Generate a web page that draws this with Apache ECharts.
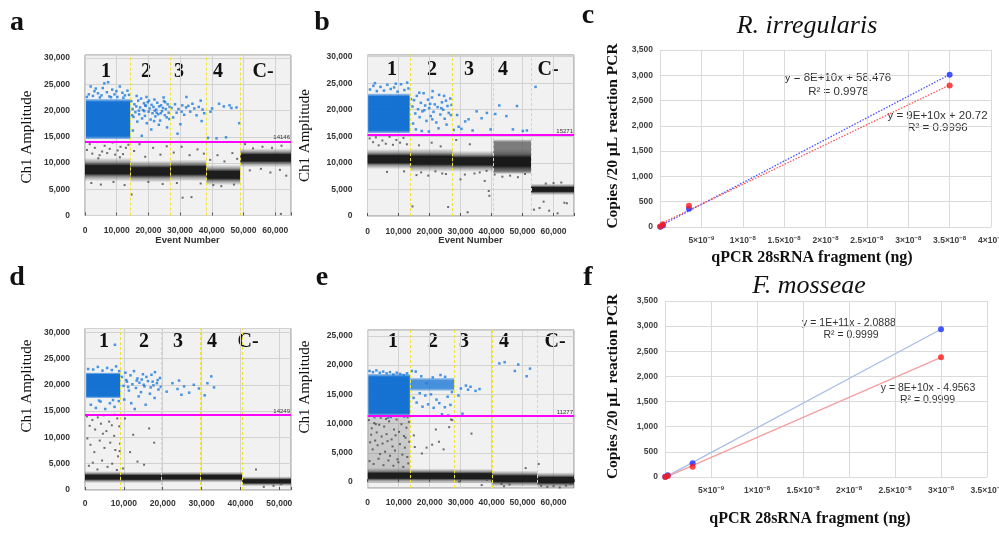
<!DOCTYPE html>
<html><head><meta charset="utf-8">
<script src="https://cdn.jsdelivr.net/npm/echarts@6/dist/echarts.min.js"></script>
<style>html,body{margin:0;padding:0;background:#fff}#chart{width:999px;height:534px}</style>
</head><body><div id="chart"></div>
<script>
// ================= DATA =================
// ---- panel a (ddPCR, R. irregularis) ----
const aSeparators = [14370, 26950, 38270, 48960];
const aThreshold = 14146;
const aBands = [[0,14370,6500,11000],[14370,26950,6300,10500],[26950,38270,6500,10700],[38270,48960,5800,9700],[48960,65000,9200,12800]];
const aDense = [[300,14300,14600,22200]];
const aBlue = [[1200,23100],[2500,22800],[3400,24200],[4100,23300],[5200,22900],[6100,25200],[6900,23500],[7700,22700],[8600,24000],[9300,23100],[10200,22600],[11000,24600],[11800,23400],[12600,22900],[13400,23800],[1800,24600],[7300,25400],[9900,23700],[4700,22500],[12100,22450],[600,22600],[3000,23700],[8200,22550],[13900,23000],[5600,24300],
[14600,21800],[15000,20300],[15300,18800],[15600,21200],[15900,19700],[16200,20800],[16500,17900],[16800,21900],[17100,19300],[17400,20600],[17700,22300],[18000,18500],[18300,20100],[18600,21400],[18900,19000],[19200,20900],[19500,17600],[19800,21600],[20100,19800],[20400,20400],[20700,18300],[21000,21100],[21300,19500],[21600,20700],[21900,22100],[22200,18900],[22500,20200],[22800,21500],[23100,19300],[23400,20800],[23700,18100],[24000,21000],[24300,19900],[24600,20500],[24900,21800],[25200,19100],[25500,20300],[25800,18700],[26100,21200],[26400,19600],[26700,20700],[15100,16200],[17900,15200],[20900,16400],[23300,17300],[25900,16800],[16300,22800],[19400,22600],[22600,19600],[24800,22500],[18700,19900],[21800,18000],[14900,19100],[20200,21900],[25300,21600],[17000,20000],[22000,20000],[23900,19500],[26600,18400],[19000,21000],
[27300,20500],[27800,18700],[28400,21200],[28900,19600],[29500,20300],[30100,17400],[30700,21000],[31300,19200],[31900,20600],[32600,20900],[33200,19800],[33900,21300],[34500,20400],[35200,19100],[35900,20700],[36500,21900],[37100,20200],[37600,19500],[29200,15600],[32000,22600],[36800,18000],[30500,19800],
[38800,14800],[40100,20400],[41500,14700],[42300,21300],[43800,20800],[44500,14900],[46200,20500],[47800,20600],[39600,19800],[45600,21000],[48700,17600]];
const aGray = [[600,12500],[1500,13600],[2300,11800],[3100,12900],[3800,14000],[4600,11500],[5400,12200],[6200,13300],[7000,11900],[7800,12700],[8700,13900],[9500,11600],[10300,12400],[11200,13100],[12000,11700],[12900,12900],[13700,13500],[2000,6200],[5000,5900],[9000,6400],[12500,5800],[4200,10900],[11000,11100],
[15500,12300],[17200,13600],[19000,11200],[21500,12900],[23800,11600],[25800,13200],[14700,4000],[20000,6400],[24500,6000],
[28000,12000],[30500,13100],[33000,11500],[35500,12600],[37500,11800],[30800,3400],[33600,3500],[29000,6200],[36500,6100],
[39500,10600],[41800,11500],[44000,10300],[46500,11900],[48000,10800],[40500,5800],[43000,5600],[47000,5900],
[50500,13600],[53000,12800],[56000,13100],[59000,12900],[62000,13300],[52000,8600],[55500,8900],[58500,8200],[61500,8700],[63500,7600],[61800,300]];

// ---- panel b ----
const bSeparators = [13710, 27480, 40580, 52740];
const bThreshold = 15271;
const bBands = [[0,13710,8800,12600],[13710,27480,8300,12700],[27480,40580,8300,12300],[40580,52740,7800,12600],[52740,66600,3900,6100]];
const bWide = [[40580,52740,8000,14400]];
const bDense = [[200,13600,15600,23000]];
const bBlue = [[800,23800],[1900,24500],[3000,23500],[4200,24300],[5300,23600],[6400,24700],[7500,23900],[8600,24200],[9700,23400],[10800,24800],[11900,23700],[12800,25100],[2400,25000],[9100,24900],[13200,24000],
[14000,22000],[14500,20600],[15000,21800],[15400,19300],[15900,22600],[16300,20100],[16800,18600],[17200,21300],[17700,19700],[18100,23100],[18600,20800],[19000,17900],[19500,21900],[19900,20300],[20400,18800],[20800,22300],[21300,19600],[21700,21000],[22200,17600],[22600,20500],[23100,22800],[23500,19100],[24000,21400],[24400,20000],[24900,18300],[25300,21700],[25800,20700],[26200,19400],[26700,22100],[27100,20900],[15600,16300],[17500,16000],[19800,15900],[22900,16500],[25500,17200],[16700,23200],[21000,23500],[24700,22600],[18300,19900],[20200,21100],[23800,20300],[26900,19000],[14700,17400],[20900,18200],
[27800,16200],[28900,19000],[30300,16400],[31500,17800],[32600,18200],[33900,16100],[35200,19700],[36800,18400],[38500,19400],[39700,16300],[29400,16800],
[41200,19200],[42500,20800],[44800,18800],[46900,16300],[48200,20700],[50100,16000],[51400,16100],[54200,24300]];
const bGray = [[700,14600],[1800,13900],[2700,14800],[3600,13300],[4800,14200],[5900,13600],[7100,14900],[8200,13400],[9300,14300],[10500,13800],[11600,14700],[12700,13500],[6300,8300],[11800,8400],
[14500,1800],[15800,7700],[17300,8200],[19600,7600],[21900,8400],[24100,8000],[26000,1700],[25300,7900],[16600,13300],[20700,13800],[23600,13100],
[28600,14300],[30000,6900],[31400,7800],[32300,700],[34500,8000],[36200,8200],[37800,6600],[39100,4700],[39300,3800],[38400,8500],[33000,13500],
[41000,7800],[43500,7400],[46000,7600],[48500,7300],[50800,7900],
[53700,1200],[55500,1500],[56800,2700],[58600,1000],[61300,500],[63500,2500],[64300,2400],[60000,6200],[57500,6100],[62500,6300]];

// ---- panel d (ddPCR, F. mosseae) ----
const dSeparators = [9180, 19700, 29740, 40440];
const dThreshold = 14249;
const dBands = [[0,9180,1300,3600],[9180,19700,1300,3500],[19700,29740,1400,3500],[29740,40440,1400,3500],[40440,53000,700,2600]];
const dDense = [[300,9100,17500,22300]];
const dBlue = [[800,23000],[2100,22900],[3300,23400],[4500,22700],[5700,23200],[6900,22800],[8000,23500],[8800,22600],[1500,16200],[2800,15600],[4000,16800],[5200,15400],[6400,16500],[7600,15800],[8700,16900],[3600,17000],[7200,17100],[7700,27600],
[9500,21500],[9900,19800],[10400,22300],[10800,20600],[11300,18900],[11700,21800],[12200,20100],[12600,22600],[13100,19400],[13500,21200],[14000,20400],[14400,18600],[14900,22000],[15300,19700],[15800,21500],[16200,20700],[16700,18300],[17100,21900],[17600,19900],[18000,22400],[18500,20300],[18900,19100],[19300,21300],[10100,17200],[11900,16500],[13800,17800],[15600,16200],[17900,17500],[12800,15400],[10600,20900],[14600,21000],[16900,19500],[18700,20900],[11100,19600],[13300,20800],[15100,20000],[17400,20600],[19500,19600],
[21000,18700],[22500,20300],[23800,19200],[24800,18100],[25500,19700],[26800,18500],[28000,20000],[29300,19300],[24200,20800],
[30800,18000],[32500,21600],[33200,19500],[31500,20300]];
const dGray = [[500,14000],[1200,12200],[1900,13300],[2600,11500],[3300,13800],[4100,12600],[4800,14200],[5500,11200],[6200,13000],[6900,12300],[7600,14300],[8300,13600],[8800,12100],[600,9800],[1400,8600],[2400,7200],[3800,9400],[5000,8000],[6500,9000],[7800,7600],[8500,6400],[1000,4600],[2000,5200],[3200,3900],[4400,5600],[5800,4400],[7000,5000],[8200,3800],[8900,7400],[9000,8800],[7500,10300],[4600,10700],
[10300,13600],[11600,7200],[13500,5400],[15200,4800],[17800,9000],[12400,10500],[16500,11700],[9800,4100],
[44000,3900],[46000,600],[48500,800],[50500,1100]];

// ---- panel e ----
const eSeparators = [13650, 27940, 40190, 54710];
const eThreshold = 11277;
const eBands = [[0,13650,-200,2400],[13650,27940,-200,2350],[27940,40190,-250,2300],[40190,54710,-800,2000],[54710,66600,-1000,1700]];
const eRain = [[0,13600,1800,11200]];
const eDense = [[200,13600,11300,18500]];
const eDenseLight = [[13700,27900,15600,17800]];
const eBlue = [[600,19000],[1700,18800],[2800,19100],[3900,18700],[5000,18900],[6100,18600],[7200,18800],[8300,18400],[9400,18700],[10500,18500],[11600,18300],[12700,18600],[2200,11100],[6600,11000],[11800,11200],
[14200,19000],[15500,18900],[14800,14400],[15800,13600],[16800,15200],[17700,12900],[18600,14800],[19500,13300],[20400,15000],[21300,12700],[22200,14100],[23100,13500],[24000,11600],[24900,12800],[25800,14600],[26700,13200],[26000,11400],[27200,15400],[19000,16900],[23500,18300],[17300,18100],[21000,17900],[25000,18000],
[29300,14800],[30100,16000],[31700,16500],[32400,15800],[33200,16300],[34800,15600],[36100,15900],[30600,11700],
[42500,20300],[44200,20500],[47500,19000],[48600,20100],[51300,18100],[52400,19400]];
const eGray = [[400,10600],[1300,9200],[2100,10100],[2900,8500],[3700,9800],[4500,7800],[5300,9500],[6100,8200],[6900,10400],[7700,7300],[8500,9000],[9300,10700],[10100,8600],[10900,9900],[11700,7900],[12500,9300],[13300,10300],[800,6800],[1600,5600],[2400,7100],[3200,6300],[4000,4800],[4800,6600],[5600,5200],[6400,7000],[7200,4500],[8000,6100],[8800,5400],[9600,3900],[10400,6500],[11200,4700],[12000,5900],[12800,4300],[13400,6900],[600,3600],[1900,3100],[3500,4000],[5100,2900],[6700,3700],[8300,2800],[9900,3400],[11500,2600],[13100,3200],[1100,8100],[4200,11000],[7500,11100],[10700,11300],[12900,11100],[2600,9900],[9000,8000],[5900,10800],[12200,7600],
[15200,6000],[17500,4900],[19000,5900],[20800,6400],[23000,6900],[24500,5600],[26300,9400],[26900,10700],[27300,10600],[14900,8000],[22000,9000],
[33500,8300],[29500,100],[36800,-500],[38500,400],
[43200,-300],[44000,-700],[45800,-400],[51000,2400],
[55200,3100],[56000,-600],[58000,-800],[60000,-700],[62000,-900],[64000,-600],[65500,-300]];

// ---- panel c (qPCR vs ddPCR, R. irregularis) ----
const cBlue = [[3.5e-11,5],[3.5e-10,32],[3.5e-9,360],[3.5e-8,3010]];
const cRed  = [[3.5e-11,10],[3.5e-10,55],[3.5e-9,420],[3.5e-8,2800]];
const cEquations = ['y = 8E+10x + 58.476','R² = 0.9978','y = 9E+10x + 20.72','R² = 0.9996'];
// ---- panel f (F. mosseae) ----
const fBlue = [[3e-11,3],[3e-10,35],[3e-9,272],[3e-8,2940]];
const fRed  = [[3e-11,1],[3e-10,22],[3e-9,205],[3e-8,2380]];
const fEquations = ['y = 1E+11x - 2.0888','R² = 0.9999','y = 8E+10x - 4.9563','R² = 0.9999'];

const wellNames = ['1','2','3','4','C-'];
const panelLetters = ['a','b','c','d','e','f'];

// ================= HELPERS =================
const SERIF = "'Liberation Serif','DejaVu Serif',serif";
const SANS = "'Liberation Sans',Arial,sans-serif";
const comma = v => String(Math.round(v)).replace(/\B(?=(\d{3})+(?!\d))/g, ',');
function sci(v){
  if (v <= 0) return '';
  const e = Math.floor(Math.log10(v) + 1e-9);
  const m = Math.round(v / Math.pow(10, e) * 100) / 100;
  return '{b|' + m + '×10}{s|' + String(e).replace('-', '−') + '}';
}
function fit(pts){
  const n = pts.length; let sx=0, sy=0, sxx=0, sxy=0;
  pts.forEach(([x,y]) => { sx+=x; sy+=y; sxx+=x*x; sxy+=x*y; });
  const b = (n*sxy - sx*sy) / (n*sxx - sx*sx);
  const a = (sy - b*sx) / n;
  const xs = pts.map(p => p[0]);
  const x0 = Math.min(...xs), x1 = Math.max(...xs);
  return [[x0, a + b*x0], [x1, a + b*x1]];
}
const NEG_STOPS = [[0,'rgba(90,90,90,0)'],[0.18,'rgba(75,75,75,0.5)'],[0.33,'rgba(22,22,22,0.97)'],[0.67,'rgba(22,22,22,0.97)'],[0.82,'rgba(75,75,75,0.5)'],[1,'rgba(90,90,90,0)']];
const WIDE_STOPS = [[0,'rgba(90,90,90,0.15)'],[0.08,'rgba(85,85,85,0.75)'],[0.92,'rgba(85,85,85,0.75)'],[1,'rgba(90,90,90,0.15)']];
const POS_STOPS = [[0,'rgba(25,120,220,0.35)'],[0.07,'rgba(10,108,210,0.95)'],[0.93,'rgba(10,108,210,0.95)'],[1,'rgba(25,120,220,0.45)']];
const POS_LIGHT = [[0,'rgba(25,120,220,0.3)'],[0.2,'rgba(15,112,212,0.75)'],[0.8,'rgba(15,112,212,0.75)'],[1,'rgba(25,120,220,0.3)']];
const RAIN_STOPS = [[0,'rgba(90,90,90,0.22)'],[1,'rgba(90,90,90,0.30)']];
function rectRender(stops){
  return (params, api) => {
    const p0 = api.coord([api.value(0), api.value(3)]);
    const p1 = api.coord([api.value(1), api.value(2)]);
    return {type:'rect', shape:{x:p0[0], y:p0[1], width:p1[0]-p0[0], height:p1[1]-p0[1]},
      style:{fill:new echarts.graphic.LinearGradient(0,0,0,1, stops.map(s => ({offset:s[0], color:s[1]})))}};
  };
}

// ================= LAYOUT =================
const grids = [
  {left:85,    top:55,    width:206,   height:160.5, show:true, backgroundColor:'#f1f1f1', borderColor:'#8c8c8c', borderWidth:1}, // a
  {left:367.5, top:55,    width:206.5, height:161,   show:true, backgroundColor:'#f1f1f1', borderColor:'#8c8c8c', borderWidth:1}, // b
  {left:660,   top:50,    width:331,   height:177,   show:false}, // c
  {left:85,    top:328.5, width:206,   height:161.5, show:true, backgroundColor:'#f1f1f1', borderColor:'#8c8c8c', borderWidth:1}, // d
  {left:367.7, top:330,   width:206.3, height:158,   show:true, backgroundColor:'#f1f1f1', borderColor:'#8c8c8c', borderWidth:1}, // e
  {left:665,   top:301,   width:322,   height:176,   show:false}  // f
].map(g => Object.assign({containLabel:false, outerBoundsMode:'none'}, g));

function dropX(i, max, margin){
  return {gridIndex:i, type:'value', min:0, max:max, interval:10000,
    axisLine:{show:false}, axisTick:{show:true, inside:true, length:3, lineStyle:{color:'#555'}},
    splitLine:{show:true, lineStyle:{color:'#d2d2d2', width:1}},
    axisLabel:{margin:margin, fontSize:8.5, fontWeight:'bold', fontFamily:SANS, color:'#333',
      formatter: v => (Math.abs(v % 10000) < 1e-6 ? comma(v) : '')}};
}
function dropY(i, min, max){
  const ax = {gridIndex:i, type:'value', min:min, max:max,
    axisLine:{show:false}, axisTick:{show:false},
    splitLine:{show:true, lineStyle:{color:'#d2d2d2', width:1}},
    axisLabel:{margin:15, fontSize:8.5, fontWeight:'bold', fontFamily:SANS, color:'#333',
      formatter: v => (Math.abs(v % 5000) < 1e-6 && v >= 0 ? comma(v) : '')}};
  if (min === 0) ax.interval = 5000; else { ax.minInterval = 5000; ax.maxInterval = 5000; }
  return ax;
}
function qX(i, max){
  return {gridIndex:i, type:'value', min:0, max:max, interval:5e-9,
    axisLine:{show:false}, axisTick:{show:false},
    splitLine:{show:true, lineStyle:{color:'#dadada', width:1}},
    axisLabel:{margin:8, color:'#404040', formatter: sci,
      rich:{b:{fontSize:8.5, fontWeight:'bold', fontFamily:SANS, color:'#404040', lineHeight:12},
            s:{fontSize:6, fontWeight:'bold', fontFamily:SANS, color:'#404040', verticalAlign:'top', lineHeight:12}}}};
}
function qY(i){
  return {gridIndex:i, type:'value', min:0, max:3500, interval:500,
    axisLine:{show:false}, axisTick:{show:false},
    splitLine:{show:true, lineStyle:{color:'#dadada', width:1}},
    axisLabel:{margin:7, fontSize:8.5, fontWeight:'bold', fontFamily:SANS, color:'#404040', formatter: v => comma(v)}};
}

const xAxes = [dropX(0,65000,11), dropX(1,66600,11), qX(2,4e-8), dropX(3,53000,9.5), dropX(4,66600,10.5), qX(5,3.5e-8)];
const yAxes = [dropY(0,0,30600), dropY(1,0,30300), qY(2), dropY(3,0,30700), dropY(4,-1000,26000), qY(5)];

const series = [];
function addDroplet(i, bands, dense, gray, blue, seps, thr, extra){
  const ax = {xAxisIndex:i, yAxisIndex:i};
  if (extra) extra.filter(ex => ex.under).forEach(ex => series.push(Object.assign({type:'custom', renderItem:rectRender(ex.stops), data:ex.data, encode:{x:[0,1], y:[2,3]}, z:1, silent:true}, ax)));
  series.push(Object.assign({type:'custom', renderItem:rectRender(NEG_STOPS), data:bands, encode:{x:[0,1], y:[2,3]}, z:1, silent:true}, ax));
  if (extra) extra.filter(ex => !ex.under).forEach(ex => series.push(Object.assign({type:'custom', renderItem:rectRender(ex.stops), data:ex.data, encode:{x:[0,1], y:[2,3]}, z:2, silent:true}, ax)));
  series.push(Object.assign({type:'custom', renderItem:rectRender(POS_STOPS), data:dense, encode:{x:[0,1], y:[2,3]}, z:2, silent:true}, ax));
  series.push(Object.assign({type:'scatter', data:gray, symbol:'rect', symbolSize:2, itemStyle:{color:'#4a4a4a'}, z:3, silent:true}, ax));
  const ml = seps.map(s => ({xAxis:s, lineStyle:{color:'#ece23a', type:[3,2], width:1}, label:{show:false}}));
  ml.push({yAxis:thr, lineStyle:{color:'#ff00ff', width:2, type:'solid'},
    label:{show:true, position:'insideEndTop', formatter:String(thr), fontSize:6, fontFamily:SANS, color:'#333', distance:1}});
  series.push(Object.assign({type:'scatter', data:blue, symbol:'rect', symbolSize:2.5, itemStyle:{color:'#1c7ce0'}, z:4, silent:true,
    markLine:{silent:true, symbol:['none','none'], animation:false, data:ml}}, ax));
}
addDroplet(0, aBands, aDense, aGray, aBlue, aSeparators, aThreshold);
addDroplet(1, bBands, bDense, bGray, bBlue, bSeparators, bThreshold, [{stops:WIDE_STOPS, data:bWide, under:true}]);
addDroplet(3, dBands, dDense, dGray, dBlue, dSeparators, dThreshold);
addDroplet(4, eBands, eDense, eGray, eBlue, eSeparators, eThreshold, [{stops:RAIN_STOPS, data:eRain},{stops:POS_LIGHT, data:eDenseLight}]);

function addQ(i, blue, red, dotted){
  const ax = {xAxisIndex:i, yAxisIndex:i};
  series.push(Object.assign({type:'line', data:fit(blue), symbol:'none', silent:true, z:2,
    lineStyle:dotted ? {color:'#4a4aff', width:1.3, type:[1.5,1.5]} : {color:'#a9bfe6', width:1.3}}, ax));
  series.push(Object.assign({type:'line', data:fit(red), symbol:'none', silent:true, z:2,
    lineStyle:dotted ? {color:'#ff5555', width:1.3, type:[1.5,1.5]} : {color:'#f4a0a0', width:1.3}}, ax));
  series.push(Object.assign({type:'scatter', data:blue, symbol:'circle', symbolSize:6, itemStyle:{color:'#1a2fff'}, z:3, silent:true}, ax));
  series.push(Object.assign({type:'scatter', data:red, symbol:'circle', symbolSize:6, itemStyle:{color:'#ff1a1a'}, z:4, silent:true}, ax));
}
addQ(2, cBlue, cRed, true);
addQ(5, fBlue, fRed, false);

// ================= TEXT =================
function T(x, y, text, font, extra){
  return Object.assign({type:'text', x:x, y:y, silent:true,
    style:Object.assign({text:text, font:font, fill:'#111', textAlign:'center', textVerticalAlign:'middle', align:'center', verticalAlign:'middle'}, (extra && extra.style) || {})},
    extra && extra.rotation ? {rotation:extra.rotation} : {});
}
const letterFont = 'bold 28px ' + SERIF;
const wellFont = 'bold 20px ' + SERIF;
const ampFont = '15px ' + SERIF;
const g = [];
[[17,23],[322,22.5],[588,15.5],[17,277.5],[322,277.5],[588,277.5]].forEach((p, k) => g.push(T(p[0], p[1], panelLetters[k], letterFont)));
[[ [106,71.5],[146,71.5],[179,71.5],[218,71.5],[263,71.5] ],
 [ [392,70],[432,70],[469,70],[503,70],[548,70] ],
 [ [104,341.5],[144,341.5],[178,341.5],[212,341.5],[248,341.5] ],
 [ [393,341.5],[433,341.5],[464,341.5],[504,341.5],[555,341.5] ]].forEach(row => row.forEach((p, k) => g.push(T(p[0], p[1], wellNames[k], wellFont))));
[[26.6,137],[305,135.5],[26.6,386],[305,387]].forEach(p => g.push(T(p[0], p[1], 'Ch1 Amplitude', ampFont, {rotation:Math.PI/2})));
g.push(T(187.5, 240.5, 'Event Number', 'bold 9.5px ' + SANS, {style:{fill:'#333'}}));
g.push(T(470.5, 240.5, 'Event Number', 'bold 9.5px ' + SANS, {style:{fill:'#333'}}));
g.push(T(807, 26, 'R. irregularis', 'italic 26px ' + SERIF));
g.push(T(809, 286, 'F. mosseae', 'italic 26px ' + SERIF));
g.push(T(612.5, 136, 'Copies /20 µL reaction PCR', 'bold 15.5px ' + SERIF, {rotation:Math.PI/2}));
g.push(T(612.5, 386.5, 'Copies /20 µL reaction PCR', 'bold 15.5px ' + SERIF, {rotation:Math.PI/2}));
g.push(T(812, 258, 'qPCR 28sRNA fragment (ng)', 'bold 16px ' + SERIF));
g.push(T(810, 519, 'qPCR 28sRNA fragment (ng)', 'bold 16px ' + SERIF));
const eqC = [[838,78],[838.5,92],[937.5,116],[937.5,128.3]];
eqC.forEach((p, k) => g.push(T(p[0], p[1], cEquations[k], '11.5px ' + SANS, {style:{fill:'#333'}})));
const eqF = [[849,322.7],[851,335],[928,387.7],[927.5,400]];
eqF.forEach((p, k) => g.push(T(p[0], p[1], fEquations[k], '10.5px ' + SANS, {style:{fill:'#333'}})));

const chart = echarts.init(document.getElementById('chart'), null, {renderer:'canvas'});
chart.setOption({
  animation:false,
  backgroundColor:'#ffffff',
  grid:grids, xAxis:xAxes, yAxis:yAxes, series:series, graphic:{elements:g}
});
</script></body></html>
